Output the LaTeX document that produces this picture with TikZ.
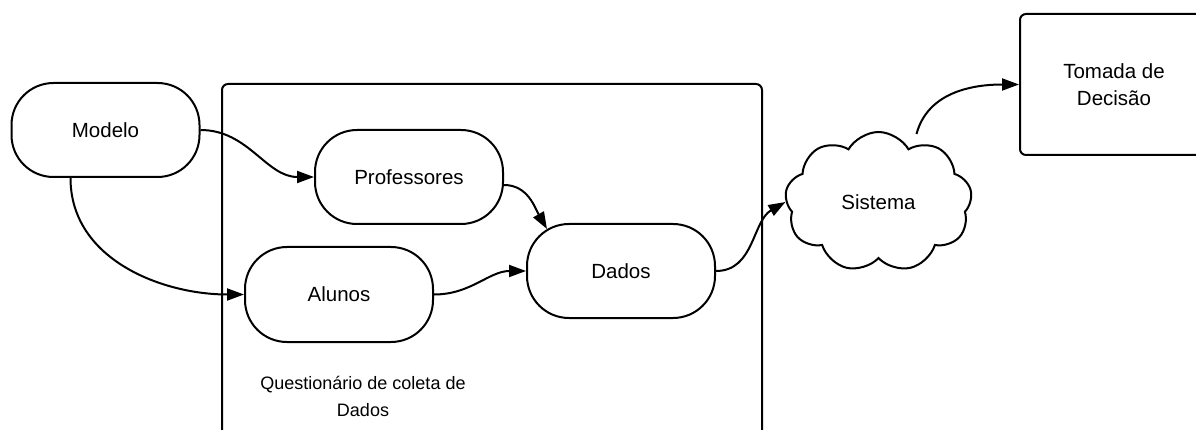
\documentclass[tikz,border=0pt]{standalone}
\usepackage{fontspec}
\setmainfont{Liberation Sans}
\usetikzlibrary{arrows.meta,shapes.symbols,calc}
\begin{document}
\begin{tikzpicture}[x=1pt,y=-1pt,
  every node/.style={font=\fontsize{20.5}{27}\selectfont},
  pill/.style={draw, line width=2pt, rounded corners=42pt, minimum width=188pt,
    minimum height=94pt, inner sep=0pt},
  box/.style={draw, line width=2pt, rounded corners=6pt, inner sep=0pt},
  link/.style={line width=2pt, -{Triangle[length=17pt,width=12pt]}},
]
\useasboundingbox (0,0) rectangle (1196,430);
\clip (0,0) rectangle (1196,430);

% questionnaire frame (runs past the bottom edge)
\node[box, minimum width=540pt, minimum height=380pt, anchor=north west] (frame) at (221,83) {};
\node[align=center, font=\fontsize{18}{27}\selectfont] (framelabel) at (363,396)
  {Questionário de coleta de\\Dados};

% process nodes
\node[pill] (modelo) at (105.5,130) {Modelo};
\node[pill] (prof) at (409,177) {Professores};
\node[pill, minimum height=95pt] (alunos) at (339,294.5) {Alunos};
\node[pill] (dados) at (621,271) {Dados};
\node[cloud, draw, line width=2pt, cloud puffs=9, cloud puff arc=120,
  cloud ignores aspect, minimum width=187pt, minimum height=140pt, inner sep=0pt]
  (sis) at (878.5,202) {Sistema};
\node[box, minimum width=188pt, minimum height=141pt, align=center, anchor=north west]
  (tom) at (1019,13) {Tomada de\\Decisão};

% connectors
\draw[link] (modelo.east) to[out=0,in=180] (prof.west);
\draw[link] ([xshift=-35pt]modelo.south) to[out=-90,in=180] (alunos.west);
\draw[link] ([yshift=-8pt]prof.east) to[out=0,in=120] ($(dados.north)+(-74,6)$);
\draw[link] (alunos.east) to[out=0,in=180] (dados.west);
\draw[link] (dados.east) to[out=0,in=210] (sis.west);
\draw[link] ($(sis.north)+(38,3)$) to[out=75,in=180] (tom.west);
\end{tikzpicture}
\end{document}
